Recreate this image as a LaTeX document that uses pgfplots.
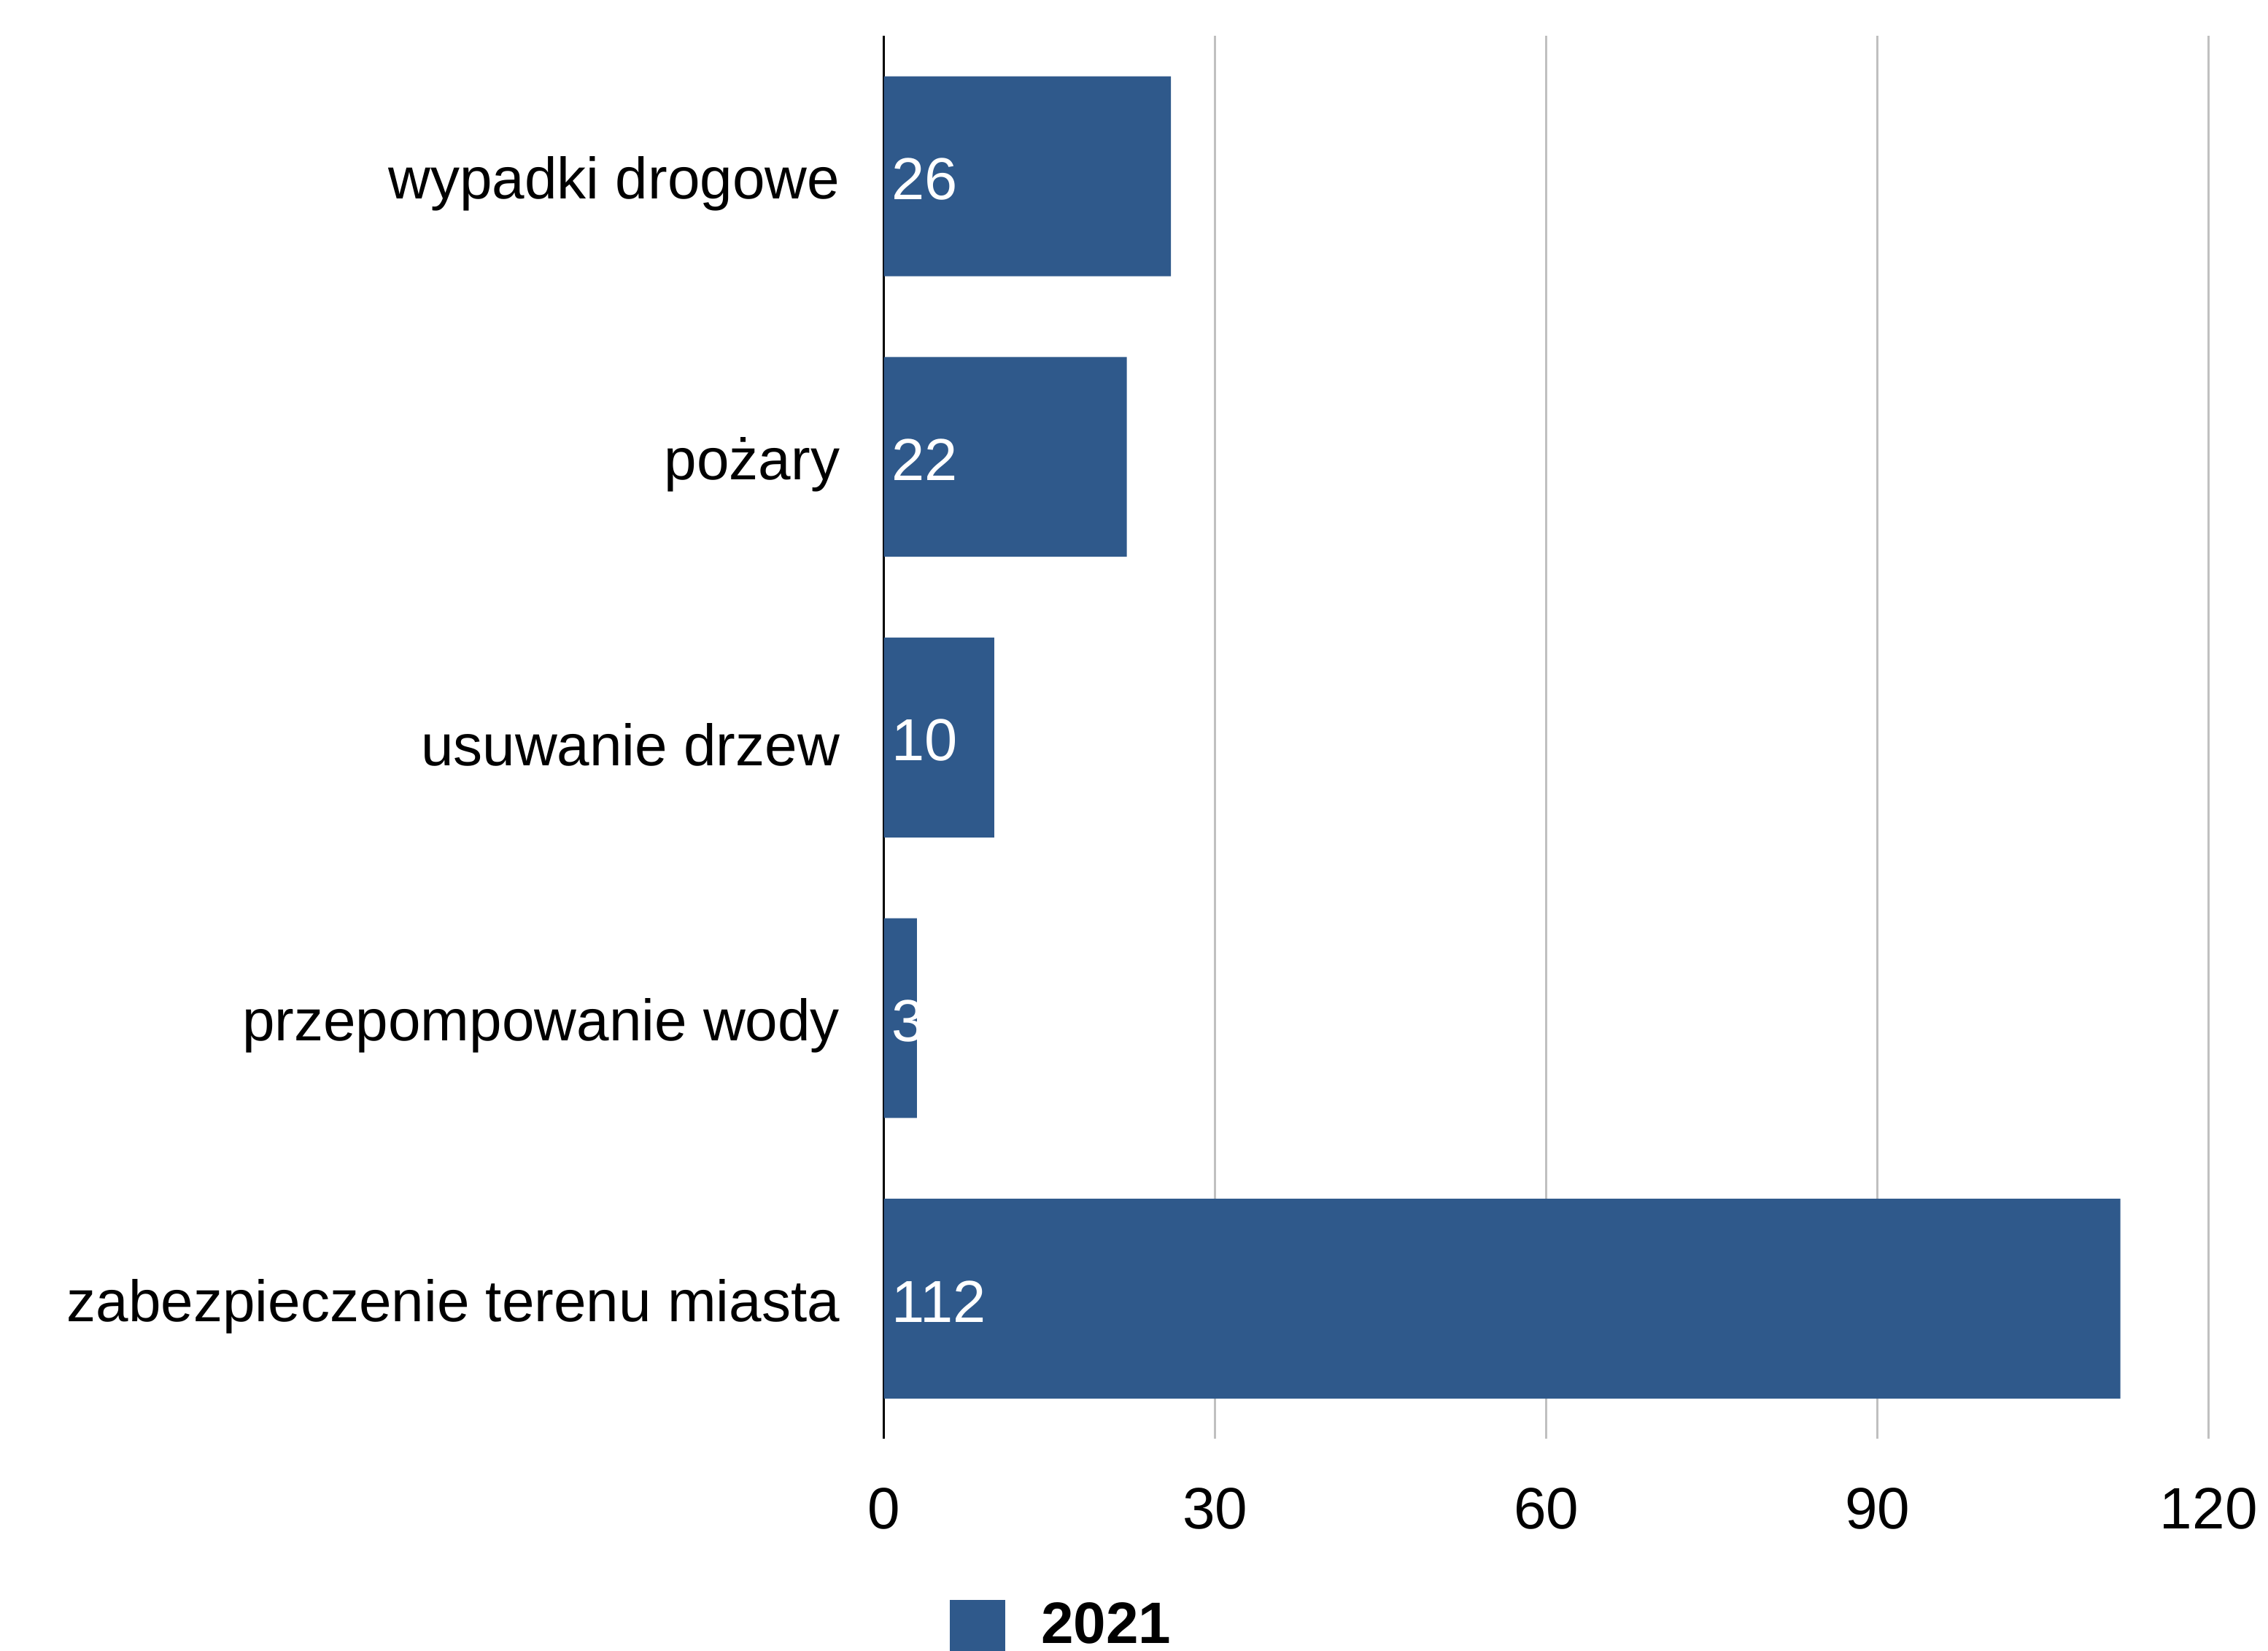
\documentclass[border=0pt]{standalone}
\usepackage{pgfplots}
\pgfplotsset{compat=1.18}
\usepackage{pgfplotstable}
\usepackage{fontspec}
\setmainfont{Liberation Sans}

\definecolor{barblue}{RGB}{47,89,139}
\definecolor{gridgray}{RGB}{192,192,192}

% y = category index (0 at top), v = count
\pgfplotstableread{
y v
0 26
1 22
2 10
3 3
4 112
}\data

\begin{document}
\begin{tikzpicture}
\useasboundingbox (-155.1pt,-37.1pt) rectangle (242.9pt,252.5pt);
\clip (-155.1pt,-37.1pt) rectangle (242.9pt,252.5pt);
\begin{axis}[
  scale only axis, width=232.5pt, height=246.2pt,
  at={(0,0)}, anchor=south west,
  xmin=0, xmax=120, ymin=-0.5, ymax=4.5, y dir=reverse,
  xtick={0,30,60,90,120},
  ytick={0,1,2,3,4},
  yticklabels={wypadki drogowe, pożary, usuwanie drzew, przepompowanie wody, zabezpieczenie terenu miasta},
  major tick length=0pt,
  xmajorgrids, grid style={gridgray, line width=0.35pt},
  separate axis lines,
  axis x line*=bottom, x axis line style={draw=none},
  axis y line*=left, y axis line style={black, line width=0.4pt, -},
  /pgf/number format/assume math mode=true,
  tick label style={font=\fontsize{10.25}{12}\selectfont},
  xticklabel style={yshift=-5pt},
  yticklabel style={xshift=-4.2pt, yshift=-1.3pt},
  legend style={at={(rel axis cs:0,0)}, anchor=north west, xshift=11.4pt, yshift=-26.5pt,
    draw=none, font=\bfseries\fontsize{10.25}{12}\selectfont, inner sep=0pt},
  legend image code/.code={\fill[barblue] (0pt,-4.85pt) rectangle (9.7pt,4.85pt); \path (14pt,0pt);},
]
\addplot[xbar, bar width=0.712, fill=barblue, draw=none] table[x=v, y=y] {\data};
\addplot[forget plot, draw=none, mark=none, nodes near coords, point meta=\thisrow{v},
  nodes near coords style={anchor=west, white, inner xsep=1.2pt, yshift=-0.5pt,
    font=\fontsize{10.4}{12}\selectfont}]
  table[x expr=0, y=y] {\data};
\legend{2021}
\end{axis}
\end{tikzpicture}
\end{document}
